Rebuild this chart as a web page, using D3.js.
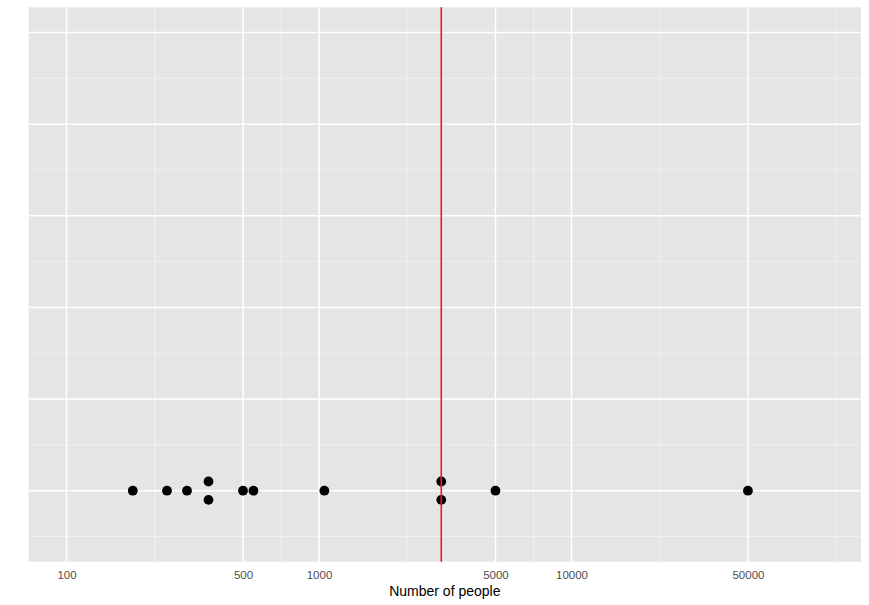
<!DOCTYPE html>
<html>
<head>
<meta charset="utf-8">
<script src="https://cdn.jsdelivr.net/npm/d3@7"></script>
<style>
  html, body { margin: 0; padding: 0; background: #ffffff; }
  svg { display: block; font-family: "Liberation Sans", Arial, Helvetica, sans-serif; }
</style>
</head>
<body>
<svg id="chart" width="869" height="605"></svg>
<script>
// ---- data ----
const peopleValues = [183, 250, 300, 365, 365, 500, 550, 1050, 3050, 3050, 5000, 50000];
const offsetValues = [0, 0, 0, 0.1, -0.1, 0, 0, 0, 0.1, -0.1, 0, 0];
const referenceValue = 3050;
const xTickValues = [100, 500, 1000, 5000, 10000, 50000];
const xTickLabels = ["100", "500", "1000", "5000", "10000", "50000"];
const xMinorValues = [223.6, 707.1, 2236.1, 7071.1, 22360.7, 111803.4];
const yMajorValues = [0, 1, 2, 3, 4, 5];
const yMinorValues = [-0.5, 0.5, 1.5, 2.5, 3.5, 4.5];
const xLabel = "Number of people";

// ---- layout ----
const panel = { left: 28.7, right: 861, top: 7.3, bottom: 561.7 };
const svg = d3.select("#chart");

// log scale with ggplot-like 5% expansion
const lx0 = Math.log10(100), lx1 = Math.log10(99300);
const ex = (lx1 - lx0) * 0.05;
const x = d3.scaleLog()
  .domain([Math.pow(10, lx0 - ex), Math.pow(10, lx1 + ex)])
  .range([panel.left, panel.right]);

const yd0 = -0.5, yd1 = 5, ey = (yd1 - yd0) * 0.05;
const y = d3.scaleLinear()
  .domain([yd0 - ey, yd1 + ey])
  .range([panel.bottom, panel.top]);

// panel background
svg.append("rect")
  .attr("x", panel.left).attr("y", panel.top)
  .attr("width", panel.right - panel.left)
  .attr("height", panel.bottom - panel.top)
  .attr("fill", "#E5E5E5");

const grid = svg.append("g");
// minor grid
grid.selectAll(".hmin").data(yMinorValues).enter().append("line")
  .attr("x1", panel.left).attr("x2", panel.right)
  .attr("y1", d => y(d)).attr("y2", d => y(d))
  .attr("stroke", "#F2F2F2").attr("stroke-width", 0.8);
grid.selectAll(".vmin").data(xMinorValues).enter().append("line")
  .attr("y1", panel.top).attr("y2", panel.bottom)
  .attr("x1", d => x(d)).attr("x2", d => x(d))
  .attr("stroke", "#F2F2F2").attr("stroke-width", 0.8);
// major grid
grid.selectAll(".hmaj").data(yMajorValues).enter().append("line")
  .attr("x1", panel.left).attr("x2", panel.right)
  .attr("y1", d => y(d)).attr("y2", d => y(d))
  .attr("stroke", "#FFFFFF").attr("stroke-width", 1.5);
grid.selectAll(".vmaj").data(xTickValues).enter().append("line")
  .attr("y1", panel.top).attr("y2", panel.bottom)
  .attr("x1", d => x(d)).attr("x2", d => x(d))
  .attr("stroke", "#FFFFFF").attr("stroke-width", 1.5);

// points
const pts = peopleValues.map((v, i) => ({ v: v, o: offsetValues[i] }));
svg.append("g").selectAll("circle").data(pts).enter().append("circle")
  .attr("cx", d => x(d.v))
  .attr("cy", d => y(d.o))
  .attr("r", 4.9)
  .attr("fill", "#000000");

// reference line
svg.append("line")
  .attr("x1", x(referenceValue)).attr("x2", x(referenceValue))
  .attr("y1", panel.top).attr("y2", panel.bottom)
  .attr("stroke", "#EE1C1C").attr("stroke-width", 1.6);

// x axis (labels only, no ticks)
const xAxis = d3.axisBottom(x)
  .tickValues(xTickValues)
  .tickFormat((d, i) => xTickLabels[i])
  .tickSize(0)
  .tickPadding(9);
const gx = svg.append("g")
  .attr("transform", `translate(0,${panel.bottom})`)
  .call(xAxis);
gx.select(".domain").remove();
gx.selectAll("text")
  .attr("fill", "#4D4D4D")
  .style("font-size", "11.5px")
  .style("font-family", "'Liberation Sans', Arial, Helvetica, sans-serif");

// x label
svg.append("text")
  .attr("x", (panel.left + panel.right) / 2)
  .attr("y", 595.5)
  .attr("text-anchor", "middle")
  .attr("fill", "#000000")
  .style("font-size", "14px")
  .text(xLabel);
</script>
</body>
</html>
